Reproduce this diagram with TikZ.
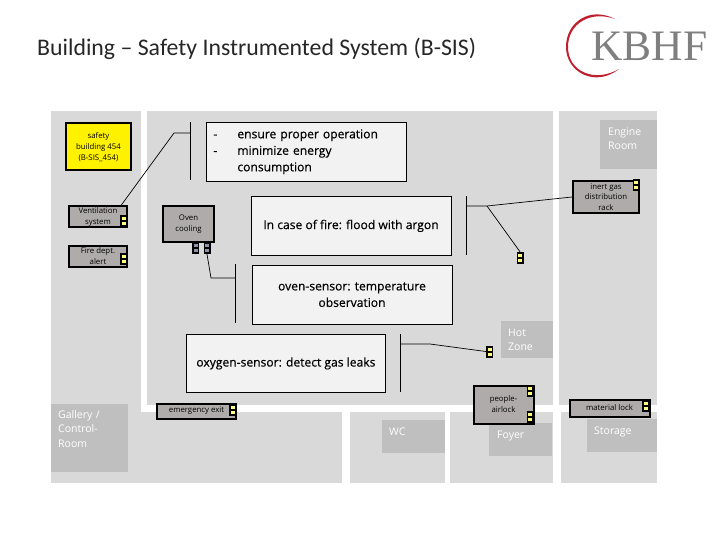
\documentclass[tikz,border=0pt]{standalone}
\usepackage{fontspec}
\setmainfont{Open Sans}
\newfontfamily\titlefont{Carlito}
\newfontfamily\logofont{Liberation Serif}
\newfontfamily\notefont[FakeBold=0.4]{Open Sans}
\usetikzlibrary{positioning, calc}
\definecolor{roomGray}{HTML}{D9D9D9}
\definecolor{zoneGray}{HTML}{BFBFBF}
\definecolor{unitGray}{HTML}{AFABAB}
\definecolor{noteGray}{HTML}{F2F2F2}
\definecolor{portYellow}{HTML}{FFFF80}
\definecolor{portSlate}{HTML}{8E94A6}
\definecolor{logoRed}{HTML}{C01F2E}
\definecolor{logoGray}{HTML}{7F7F7F}

\begin{document}
\begin{tikzpicture}[x=1pt, y=-1pt,
  room/.style={fill=roomGray, anchor=north west, inner sep=0pt, outer sep=0pt},
  zone/.style={fill=zoneGray, anchor=north west, inner sep=0pt, outer sep=0pt},
  zonetext/.style={text=white, font=\fontsize{10.5}{14.5}\selectfont, align=left, inner sep=0pt, anchor=north west},
  note/.style={draw=black, line width=0.8pt, fill=noteGray, anchor=north, inner sep=2pt, align=center,
               font=\notefont\fontsize{12.1}{16.5}\selectfont},
  unit/.style={draw=black, line width=2pt, fill=unitGray, anchor=north west, inner sep=0pt, align=center,
               font=\fontsize{7.8}{11}\selectfont},
  portbox/.style={fill=black, inner sep=0pt, minimum width=7pt, minimum height=12pt,
    path picture={
      \fill[#1] ($(path picture bounding box.center)+(-2,-4)$) rectangle ++(4,3);
      \fill[#1] ($(path picture bounding box.center)+(-2,1)$) rectangle ++(4,3);
    }},
  portbox/.default=portYellow,
  bar/.style={line width=0.8pt},
  wire/.style={line width=0.7pt}
]
  \useasboundingbox (0,0) rectangle (720,540);

  % rooms
  \node[room, minimum width=90pt, minimum height=372pt] (galleryRoom) at (51,111) {};
  \node[room, minimum width=201pt, minimum height=71pt] (galleryWing) at (141,412) {};
  \node[room, minimum width=406pt, minimum height=294pt] (hotRoom) at (147,111) {};
  \node[room, minimum width=98pt, minimum height=294pt] (engineRoom) at (559,111) {};
  \node[room, minimum width=95pt, minimum height=71pt] (wcRoom) at (350,412) {};
  \node[room, minimum width=103pt, minimum height=71pt] (foyerRoom) at (450,412) {};
  \node[room, minimum width=96pt, minimum height=71pt] (storageRoom) at (561,412) {};

  % room labels
  \node[zone, minimum width=77pt, minimum height=68pt,
        label={[zonetext, xshift=7pt, yshift=-6pt, text width=66pt]north west:Gallery /\\Control-\\Room}] (galleryZone) at (51,404) {};
  \node[zone, minimum width=57pt, minimum height=49pt,
        label={[zonetext, xshift=8pt, yshift=-7.5pt]north west:Engine\\Room}] (engineZone) at (600,120) {};
  \node[zone, minimum width=52pt, minimum height=37pt,
        label={[zonetext, xshift=7pt, yshift=-7.5pt]north west:Hot\\Zone}] (hotZone) at (501,321) {};
  \node[zone, minimum width=63pt, minimum height=33pt,
        label={[zonetext, xshift=7pt, yshift=-8pt]north west:WC}] (wcZone) at (382,420) {};
  \node[zone, minimum width=63pt, minimum height=33pt,
        label={[zonetext, xshift=8pt, yshift=-8pt]north west:Foyer}] (foyerZone) at (489,423) {};
  \node[zone, minimum width=70pt, minimum height=33pt,
        label={[zonetext, xshift=7pt, yshift=-8pt]north west:Storage}] (storageZone) at (587,419) {};

  % title and logo
  \node[anchor=west, inner sep=0pt, text=black!85, font=\titlefont\fontsize{23.8}{26}\selectfont] (title) at (37,49) {Building – Safety Instrumented System (B-SIS)};
  \fill[logoRed] (615,19) .. controls (590,6) and (566,22) .. (566,47) .. controls (566,72) and (595,88) .. (619,69)
    .. controls (595,83) and (568,72) .. (568,47) .. controls (568,24) and (590,10) .. (615,19);
  \node[anchor=west, inner sep=0pt, text=logoGray, font=\logofont\fontsize{43.5}{46}\selectfont] (logo) at (591,46) {KBHF};

  % notes
  \node[note, anchor=north west, minimum height=58pt, align=left, inner sep=7pt, text width=186pt] (ensureNote) at (206,122)
    {\makebox[24pt][l]{-}ensure proper operation\\\makebox[24pt][l]{-}minimize energy\\\hspace*{24pt}consumption};
  \node[note, minimum width=200pt, minimum height=59pt] (fireNote) at (351,196) {In case of fire: flood with argon};
  \node[note, below=9pt of fireNote, xshift=1pt, minimum width=200pt, minimum height=59pt] (ovenNote) {oven-sensor: temperature\\observation};
  \node[note, anchor=north west, minimum width=199pt, minimum height=58pt] (oxygenNote) at (186,334) {oxygen-sensor: detect gas leaks};

  % units
  \node[unit, fill=yellow, minimum width=65pt, minimum height=47pt] (safetyUnit) at (65,122.5) {safety\\building 454\\(B-SIS\_454)};
  \node[unit, minimum width=58pt, minimum height=21pt] (ventUnit) at (68,205.5) {Ventilation\\system};
  \node[unit, below=16pt of ventUnit, minimum width=58pt, minimum height=21pt] (alertUnit) {Fire dept.\\alert};
  \node[unit, minimum width=51pt, minimum height=36pt] (ovenUnit) at (162,205) {Oven\\cooling};
  \node[unit, minimum width=66pt, minimum height=32pt, font=\fontsize{7.8}{10.4}\selectfont] (rackUnit) at (572,180) {inert gas\\distribution\\rack};
  \node[unit, minimum width=79pt, minimum height=15pt] (exitUnit) at (156,402.5) {emergency exit};
  \node[unit, minimum width=60pt, minimum height=38pt] (airlockUnit) at (472.5,384.5) {people-\\airlock};
  \node[unit, minimum width=80pt, minimum height=17pt] (materialUnit) at (568.5,398.5) {material lock};

  % ports
  \node[portbox] (ventPort) at (123.5,221) {};
  \node[portbox] (alertPort) at (123.5,259) {};
  \node[portbox=portSlate] (ovenPortA) at (195.5,248) {};
  \node[portbox=portSlate] (ovenPortB) at (207,248) {};
  \node[portbox] (rackPort) at (636,185.5) {};
  \node[portbox] (firePort) at (520,258) {};
  \node[portbox] (oxygenPort) at (489.5,351.5) {};
  \node[portbox] (exitPort) at (232.5,409.5) {};
  \node[portbox] (airlockPortA) at (530,391) {};
  \node[portbox] (airlockPortB) at (530,417) {};
  \node[portbox] (materialPort) at (645.5,406) {};

  % bars beside the notes
  \coordinate (ensureBarTop) at (190,122);
  \coordinate (ensureBarEnd) at (190,180);
  \coordinate (ensureBarMid) at (190,133);
  \coordinate (ensureBend) at (174,133);
  \coordinate (ovenBarTop) at (235,264);
  \coordinate (ovenBarEnd) at (235,323);
  \coordinate (ovenBarMid) at (235,278);
  \coordinate (ovenBend) at (211,278);
  \coordinate (fireBarTop) at (466,196);
  \coordinate (fireBarEnd) at (466,255);
  \coordinate (fireBarMid) at (466,206);
  \coordinate (fireBend) at (487,206);
  \coordinate (oxygenBarTop) at (400,334);
  \coordinate (oxygenBarEnd) at (400,392);
  \coordinate (oxygenBarMid) at (400,344);
  \coordinate (oxygenBend) at (430,344);

  \draw[bar] (ensureBarTop)--(ensureBarEnd);
  \draw[bar] (ovenBarTop)--(ovenBarEnd);
  \draw[bar] (fireBarTop)--(fireBarEnd);
  \draw[bar] (oxygenBarTop)--(oxygenBarEnd);

  \draw[wire] (ensureBarMid)--(ensureBend)--($(ventUnit.north east)+(-7,0)$);
  \draw[wire] (ovenBarMid)--(ovenBend)--(ovenPortB.south);
  \draw[wire] (fireBarMid)--(fireBend)--(rackUnit.west);
  \draw[wire] (fireBend)--(firePort.north);
  \draw[wire] (oxygenBarMid)--(oxygenBend)--(oxygenPort.west);
\end{tikzpicture}
\end{document}
